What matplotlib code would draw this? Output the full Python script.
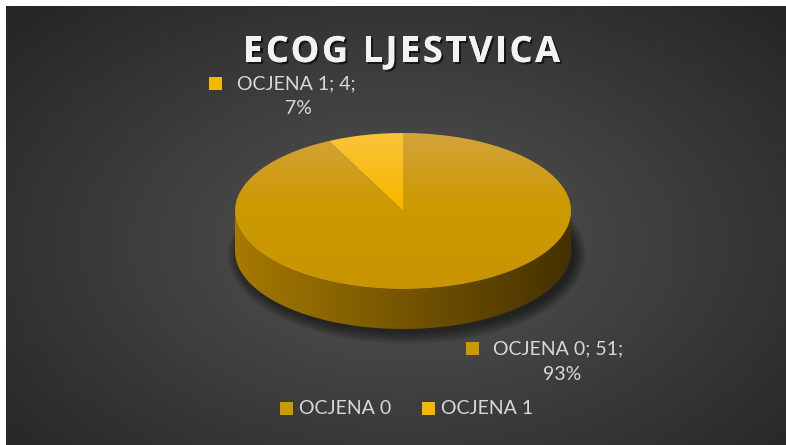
""" ECOG ljestvica - 3D style pie chart """

import numpy as np
import matplotlib.pyplot as plt
from matplotlib.patches import Polygon, Rectangle, Ellipse
from matplotlib.colors import LinearSegmentedColormap
import matplotlib.patheffects as pe

labels = ["OCJENA 0", "OCJENA 1"]
values = [51, 4]
title = "ECOG LJESTVICA"

W, H = 786, 445
cx, cy = 403, 211      # pie centre (px)
a, b = 168, 78         # ellipse radii (px)
depth = 40             # pie thickness (px)

top_cols = [("#d4a33c", "#cc9a00", "#c89500"), ("#fac43a", "#f7b700", "#f5b400")]
side_cols = ("#a67a00", "#443100")
txt_col = "#d9d9d9"

plt.rcParams['font.family'] = ['Lato', 'DejaVu Sans']

fig = plt.figure(figsize=(W / 100, H / 100), dpi=100)
ax = fig.add_axes([0, 0, 1, 1])
ax.set_xlim(0, W)
ax.set_ylim(H, 0)
ax.axis('off')
fig.patch.set_facecolor('white')

# radial background
yy, xx = np.mgrid[0:H, 0:W]
r = np.sqrt(((xx - 400) / 520.0) ** 2 + ((yy - 240) / 330.0) ** 2)
r = np.clip(r, 0, 1)
bg = LinearSegmentedColormap.from_list("bg", ["#555555", "#272727"])
ax.imshow(r, cmap=bg, extent=(6, W, H, 6), vmin=0, vmax=1, zorder=0)


def arc(p0, p1, n=200, dy=0.0):
    phi = np.radians(np.linspace(p0, p1, n))
    return np.column_stack([cx + a * np.sin(phi), cy - b * np.cos(phi) + dy])


# soft shadow under the pie
for k in range(10):
    ax.add_patch(Ellipse((cx + 4, cy + depth + 4), 2 * a + 22 - 2.5 * k,
                         2 * b + 22 - 2.5 * k, color='black', alpha=0.06,
                         lw=0, zorder=1))

# side wall (front half)
side = np.vstack([arc(90, 270), arc(270, 90, dy=depth)])
side_poly = Polygon(side, closed=True, facecolor='none', edgecolor='none',
                    zorder=2)
ax.add_patch(side_poly)
grad = np.linspace(0, 1, 256).reshape(1, -1)
sc = LinearSegmentedColormap.from_list("side", list(side_cols))
im = ax.imshow(grad, cmap=sc, extent=(cx - a, cx + a, cy + b + depth, cy),
               aspect='auto', zorder=2)
im.set_clip_path(side_poly)

# top face wedges: start at 12 o'clock, clockwise
fracs = np.array(values) / sum(values)
start = 0.0
for i, f in enumerate(fracs):
    end = start + 360 * f
    pts = np.vstack([[cx, cy], arc(start, end)])
    poly = Polygon(pts, closed=True, facecolor='none', edgecolor='none',
                   zorder=3)
    ax.add_patch(poly)
    cm = LinearSegmentedColormap.from_list(
        "t%d" % i, [(0, top_cols[i][0]), (0.45, top_cols[i][1]),
                    (1, top_cols[i][2])])
    vgrad = np.linspace(0, 1, 256).reshape(-1, 1)
    im = ax.imshow(vgrad, cmap=cm, extent=(cx - a, cx + a, cy + b, cy - b),
                   aspect='auto', zorder=3)
    im.set_clip_path(poly)
    start = end

# title, drawn letter by letter to get the wide tracking
tkw = dict(fontsize=26, fontweight='bold', color='#f2f2f2', zorder=5,
           family=['Open Sans', 'DejaVu Sans'], va='center', ha='left',
           path_effects=[pe.withSimplePatchShadow(offset=(1.5, -1.5),
                                                  shadow_rgbFace='black',
                                                  alpha=0.6), pe.Normal()])
rend = fig.canvas.get_renderer()


def txt_w(s):
    t = ax.text(0, 0, s, **tkw)
    w = t.get_window_extent(rend).width
    t.remove()
    return w


full_w = txt_w(title)
target_w = 317
gap = (target_w - full_w) / (len(title) - 1)
x0 = 401.5 - target_w / 2
for k, ch in enumerate(title):
    if ch == ' ':
        continue
    xk = x0 + txt_w(title[:k + 1]) - txt_w(ch) + k * gap
    ax.text(xk, 53, ch, **tkw)

# data labels
pcts = np.round(fracs * 100).astype(int)
lab_pos = [(466, 342, 493, 562), (209, 77, 237, 298)]
for i in range(len(values)):
    sx, sy, tx, px = lab_pos[i]
    ax.add_patch(Rectangle((sx, sy), 13, 13, facecolor=top_cols[i][1],
                           edgecolor='none', zorder=5))
    ax.text(tx, sy + 7, "%s; %d;" % (labels[i], values[i]), ha='left',
            va='center', fontsize=14, color=txt_col, zorder=5)
    ax.text(px, sy + 32, "%d%%" % pcts[i], ha='center', va='center',
            fontsize=14, color=txt_col, zorder=5)

# legend
leg_x = [280, 422]
for i in range(len(labels)):
    ax.add_patch(Rectangle((leg_x[i], 402), 13, 13,
                           facecolor=top_cols[i][1], edgecolor='none',
                           zorder=5))
    ax.text(leg_x[i] + 19, 409, labels[i], ha='left', va='center',
            fontsize=14, color=txt_col, zorder=5)

fig.savefig("out.png", dpi=100, facecolor=fig.get_facecolor())
